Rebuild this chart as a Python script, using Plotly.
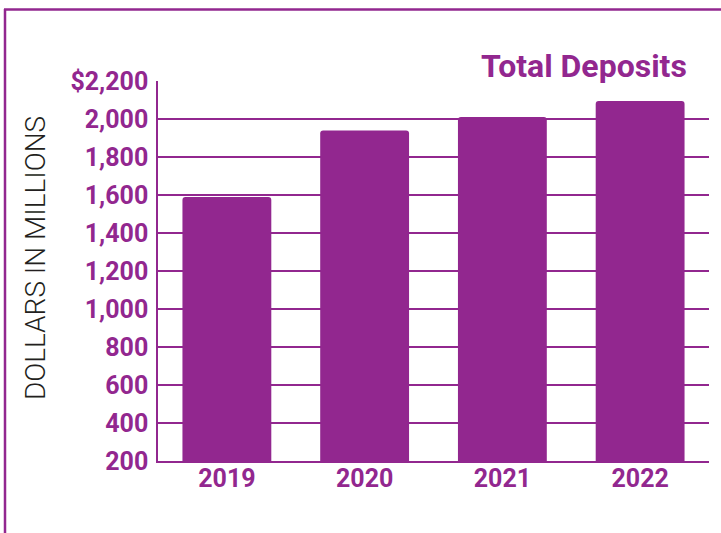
import plotly.graph_objects as go

years = ["2019", "2020", "2021", "2022"]
deposits = [1590, 1940, 2010, 2095]
ytick_vals = [200, 400, 600, 800, 1000, 1200, 1400, 1600, 1800, 2000, 2200]
ytick_text = ["200", "400", "600", "800", "1,000", "1,200", "1,400", "1,600", "1,800", "2,000", "$2,200"]

PURPLE = "#92278F"
W, H = 721, 533
L, R, T, B = 158, 12, 81, 72
pw, ph = W - L - R, H - T - B

def px_x(x):
    return (x - L) / pw

def px_y(y):
    return (H - B - y) / ph

fig = go.Figure(go.Bar(
    x=years, y=deposits,
    marker=dict(color=PURPLE, cornerradius=3, line=dict(width=0)),
    width=0.645,
))

fig.update_layout(
    width=W, height=H,
    margin=dict(l=L, r=R, t=T, b=B, pad=0),
    paper_bgcolor="white", plot_bgcolor="white",
    showlegend=False,
    font=dict(family="Roboto", color=PURPLE),
    xaxis=dict(
        showline=True, linecolor=PURPLE, linewidth=1.5,
        showgrid=False, ticks="",
        tickfont=dict(family="Roboto", size=25, color=PURPLE, weight="bold"),
        ticklabelstandoff=-6,
    ),
    yaxis=dict(
        range=[200, 2200], tickvals=ytick_vals, ticktext=ytick_text,
        showline=True, linecolor=PURPLE, linewidth=1.5,
        showgrid=True, gridcolor=PURPLE, gridwidth=1.5,
        zeroline=False, ticks="",
        tickfont=dict(family="Roboto", size=25, color=PURPLE, weight="bold"),
        ticklabelstandoff=3,
    ),
    annotations=[
        dict(text="Total Deposits", xref="paper", yref="paper",
             x=px_x(689), y=px_y(66), xanchor="right", yanchor="middle",
             showarrow=False,
             font=dict(family="Roboto", size=32, color=PURPLE, weight="bold")),
        dict(text="DOLLARS IN MILLIONS", xref="paper", yref="paper",
             x=px_x(35), y=px_y(258), xanchor="center", yanchor="middle",
             textangle=-90, showarrow=False,
             font=dict(family="Roboto", size=28, color="#231F20", weight=300)),
    ],
    shapes=[
        dict(type="line", xref="paper", yref="paper",
             x0=px_x(5), x1=px_x(5), y0=px_y(9), y1=px_y(560),
             line=dict(color=PURPLE, width=2.5)),
        dict(type="line", xref="paper", yref="paper",
             x0=px_x(4), x1=px_x(760), y0=px_y(9.5), y1=px_y(9.5),
             line=dict(color=PURPLE, width=2.5)),
    ],
)

fig.write_html("out.html", config={"displayModeBar": False},
               post_script="document.body.style.margin='0';document.body.style.overflow='hidden';")
